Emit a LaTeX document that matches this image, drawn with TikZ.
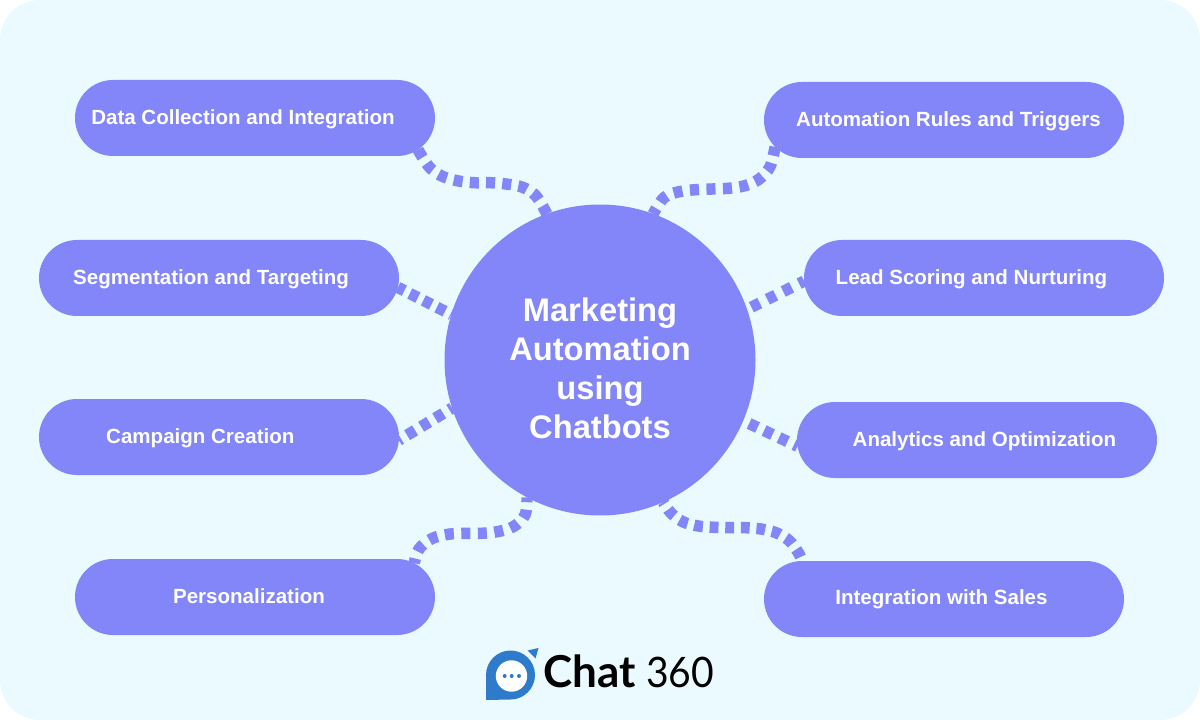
\documentclass[tikz,border=0pt]{standalone}
\usepackage{fontspec}
\setmainfont{Liberation Sans}
\newfontfamily\logofont{Lato}
\usetikzlibrary{shapes.misc}
\definecolor{bgc}{HTML}{EAFAFF}
\definecolor{pillc}{HTML}{8286F8}
\definecolor{logoc}{HTML}{2F7BCB}
\tikzset{
  pilltext/.style={text=white,font=\fontsize{15.4}{18}\selectfont\bfseries,inner sep=0pt},
  pill/.style={rounded rectangle,rounded rectangle arc length=180,fill=pillc,minimum width=270pt,minimum height=57pt,inner sep=0pt,outer sep=0pt},
  hub/.style={circle,fill=pillc,minimum size=233.25pt,inner sep=0pt,outer sep=0pt},
  hubtext/.style={text=white,font=\fontsize{24.5}{29.25}\selectfont\bfseries,align=center,inner sep=0pt},
  link/.style={draw=pillc,line width=8.6pt}
}
\begin{document}
\begin{tikzpicture}[x=.75pt,y=-.75pt]
\useasboundingbox (0,0) rectangle (1200,720);
\fill[bgc,rounded corners=30pt] (0,0) rectangle (1200,720);
\node[hub,label={[hubtext,yshift=-6.2pt]center:Marketing\\Automation\\using\\Chatbots}] (hub) at (600,360) {};
\node[pill,label={[pilltext,xshift=-9pt,yshift=-.7pt]center:Data Collection and Integration}] (p1) at (255,118) {};
\node[pill,label={[pilltext,xshift=-6pt,yshift=-.7pt]center:Segmentation and Targeting}] (p2) at (219,278) {};
\node[pill,label={[pilltext,xshift=-14pt,yshift=-.9pt]center:Campaign Creation}] (p3) at (219,437) {};
\node[pill,label={[pilltext,xshift=-4.5pt,yshift=.7pt]center:Personalization}] (p4) at (255,597) {};
\node[pill,label={[pilltext,xshift=3.4pt,yshift=-.7pt]center:Automation Rules and Triggers}] (p5) at (944,120) {};
\node[pill,label={[pilltext,xshift=-9.4pt,yshift=-.7pt]center:Lead Scoring and Nurturing}] (p6) at (984,278) {};
\node[pill,label={[pilltext,xshift=5.6pt,yshift=-1.2pt]center:Analytics and Optimization}] (p7) at (977,440) {};
\node[pill,label={[pilltext,xshift=-1.9pt]center:Integration with Sales}] (p8) at (944,599) {};
\draw[link,dash pattern=on 6.8pt off 5.4pt] plot[smooth,tension=.6] coordinates {(p1.-11) (429,166.7) (441.7,176) (457,180.7) (473.7,182.7) (490,182.7) (506,184) (522.7,187.3) (536,196) (hub.110.8)};
\draw[link,dash pattern=on 6.8pt off 5.6pt] plot[smooth,tension=.6] coordinates {(p5.189.5) (770,166.7) (759.3,179) (745,185.7) (728.3,188.3) (712.3,189) (695.7,189.7) (679.3,191.7) (664,197.7) (hub.70.3)};
\draw[link,dash pattern=on 6.8pt off 5.6pt,dash phase=3.1pt] plot[smooth,tension=.6] coordinates {(hub.242.9) (525,515) (513.3,526.7) (497.3,531.7) (481,533.3) (464.3,533.3) (448,534.3) (431.7,538.7) (419,549) (p4.12.7)};
\draw[link,dash pattern=on 6.6pt off 5.1pt,dash phase=5pt] plot[smooth,tension=.6] coordinates {(hub.-66.4) (670.7,512.7) (682.7,521.7) (698.3,526) (714,527.3) (729.3,527.7) (745.3,527.7) (761,529) (776,532.7) (789.3,540.7) (798.3,552.7) (p8.165)};
\draw[link,dash pattern=on 6.8pt off 4.6pt,dash phase=1.3pt] (p2.-3.6) -- (hub.163.4);
\draw[link,dash pattern=on 7pt off 5.3pt,dash phase=4.5pt] (hub.198.9) -- (p3.-1.3);
\draw[link,dash pattern=on 7pt off 6.3pt,dash phase=2.8pt] (p6.181.5) -- (hub.19.2);
\draw[link,dash pattern=on 7pt off 5.4pt,dash phase=4.1pt] (p7.182.2) -- (hub.-23.3);
% logo
\fill[logoc] (486,700) -- (486,675) .. controls (486,661.5) and (497,650.5) .. (510.5,650.5) .. controls (524,650.5) and (535,661.5) .. (535,675) .. controls (535,688.5) and (524,699.5) .. (510.5,699.5) -- cycle;
\fill[bgc] (524,648) -- (540,648) -- (538,664) -- cycle;
\fill[logoc] (527.5,650.5) -- (538.5,648) -- (535.5,658.5) -- cycle;
\fill[white] (511.5,676) circle[radius=15.7];
\foreach \x in {504.7,511.7,519} \fill[logoc] (\x,676) circle[radius=2];
\node[anchor=base west,inner sep=0pt,font=\logofont\bfseries\fontsize{33}{36}\selectfont] (logoa) at (543,687) {Chat};
\node[anchor=base west,inner sep=0pt,font=\logofont\fontsize{31.5}{36}\selectfont] (logob) at (646,687) {\scalebox{.93}[1]{360}};
\end{tikzpicture}
\end{document}
